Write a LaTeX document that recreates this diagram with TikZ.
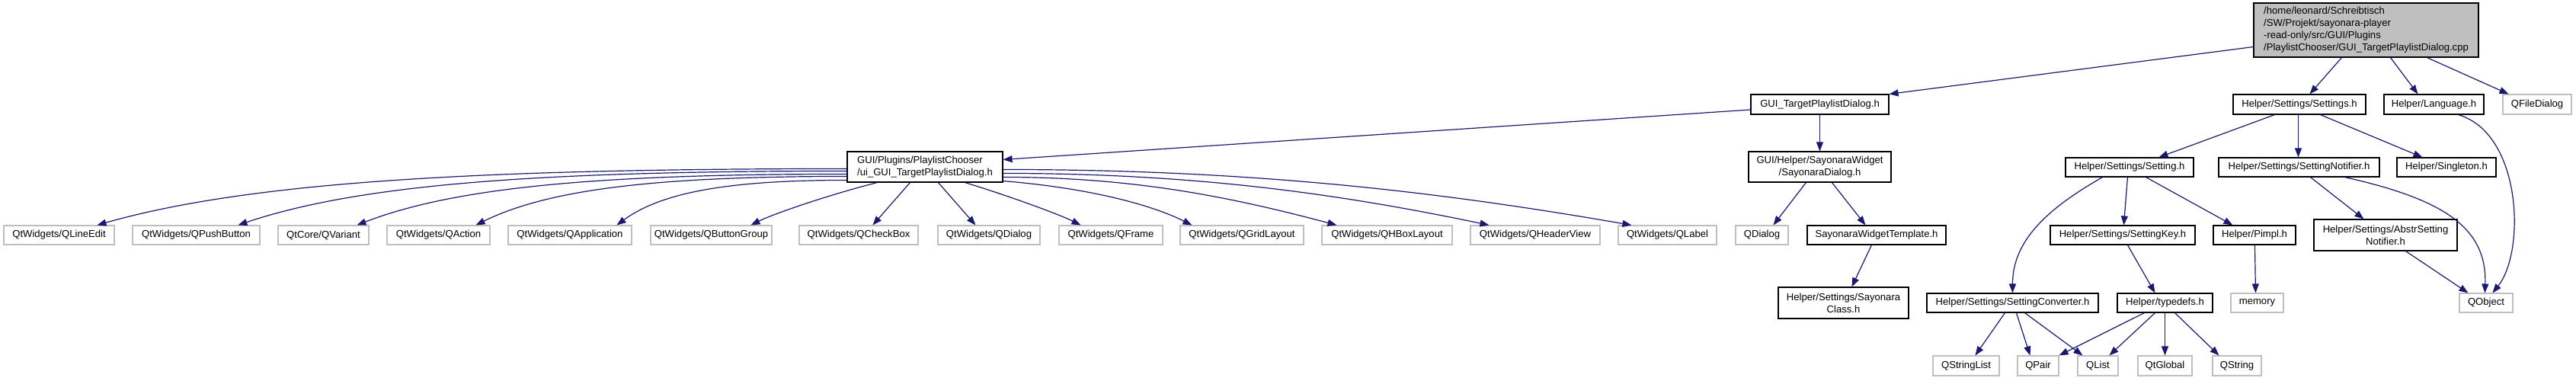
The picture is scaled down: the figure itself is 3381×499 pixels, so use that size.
\documentclass[tikz,border=0pt]{standalone}
\usepackage{fontspec}
\setmainfont{Liberation Sans}
\usetikzlibrary{arrows.meta}
\definecolor{edgeblue}{HTML}{191970}
\definecolor{grayline}{HTML}{BFBFBF}
\begin{document}
\begin{tikzpicture}[x=1pt,y=-1pt,
  box/.style={draw=black, line width=1.1pt, rectangle, inner sep=0pt, font=\fontsize{13.1}{16}\selectfont, align=center},
  ext/.style={box, draw=grayline},
  rootbox/.style={box, fill=grayline, align=left},
  edge/.style={draw=edgeblue, line width=1.2pt, -{Triangle[length=12pt,width=9pt]}}]
\useasboundingbox (0,0) rectangle (3381,499);

% rank 0
\node[rootbox, minimum width=295pt, minimum height=71pt] (root) at (3105.5,39.5) {/home/leonard/Schreibtisch\\/SW/Projekt/sayonara-player\\-read-only/src/GUI/Plugins\\/PlaylistChooser/GUI\_TargetPlaylistDialog.cpp};
% rank 1
\node[box, minimum width=181pt, minimum height=26pt] (gtpd) at (2388.5,137) {GUI\_TargetPlaylistDialog.h};
\node[box, minimum width=174pt, minimum height=26pt] (settings) at (3018,137) {Helper/Settings/Settings.h};
\node[box, minimum width=131pt, minimum height=26pt] (language) at (3194.5,137) {Helper/Language.h};
\node[ext, minimum width=90pt, minimum height=26pt] (qfiledialog) at (3330,137) {QFileDialog};
% rank 2
\node[box, align=left, minimum width=204pt, minimum height=40pt] (ui) at (1214,219) {GUI/Plugins/PlaylistChooser\\/ui\_GUI\_TargetPlaylistDialog.h};
\node[box, minimum width=187pt, minimum height=40pt] (sdialog) at (2388.5,219) {GUI/Helper/SayonaraWidget\\/SayonaraDialog.h};
\node[box, minimum width=168pt, minimum height=25pt] (setting) at (2795,219.5) {Helper/Settings/Setting.h};
\node[box, minimum width=211pt, minimum height=25pt] (snotifier) at (3017.5,219.5) {Helper/Settings/SettingNotifier.h};
\node[box, minimum width=130pt, minimum height=25pt] (singleton) at (3211,219.5) {Helper/Singleton.h};
% rank 3
\node[ext, minimum width=145pt, minimum height=25pt] (qlineedit) at (77.5,308.5) {QtWidgets/QLineEdit};
\node[ext, minimum width=167pt, minimum height=25pt] (qpushbutton) at (257.5,308.5) {QtWidgets/QPushButton};
\node[ext, minimum width=119pt, minimum height=25pt] (qvariant) at (424.5,308.5) {QtCore/QVariant};
\node[ext, minimum width=135pt, minimum height=25pt] (qaction) at (575.5,308.5) {QtWidgets/QAction};
\node[ext, minimum width=162pt, minimum height=25pt] (qapplication) at (748,308.5) {QtWidgets/QApplication};
\node[ext, minimum width=159pt, minimum height=25pt] (qbuttongroup) at (933.5,308.5) {QtWidgets/QButtonGroup};
\node[ext, minimum width=156pt, minimum height=25pt] (qcheckbox) at (1127,308.5) {QtWidgets/QCheckBox};
\node[ext, minimum width=134pt, minimum height=25pt] (qdialogw) at (1298,308.5) {QtWidgets/QDialog};
\node[ext, minimum width=136pt, minimum height=25pt] (qframe) at (1458,308.5) {QtWidgets/QFrame};
\node[ext, minimum width=162pt, minimum height=25pt] (qgridlayout) at (1630,308.5) {QtWidgets/QGridLayout};
\node[ext, minimum width=171pt, minimum height=25pt] (qhboxlayout) at (1820.5,308.5) {QtWidgets/QHBoxLayout};
\node[ext, minimum width=170pt, minimum height=25pt] (qheaderview) at (2015,308.5) {QtWidgets/QHeaderView};
\node[ext, minimum width=129pt, minimum height=25pt] (qlabel) at (2188.5,308.5) {QtWidgets/QLabel};
\node[ext, minimum width=69pt, minimum height=25pt] (qdialog) at (2312.5,308.5) {QDialog};
\node[box, minimum width=182pt, minimum height=25pt] (swt) at (2463,308.5) {SayonaraWidgetTemplate.h};
\node[box, minimum width=190pt, minimum height=25pt] (settingkey) at (2786,308.5) {Helper/Settings/SettingKey.h};
\node[box, minimum width=108pt, minimum height=25pt] (pimpl) at (2959,308.5) {Helper/Pimpl.h};
\node[box, minimum width=188pt, minimum height=41pt] (abstr) at (3131,308.5) {Helper/Settings/AbstrSetting\\Notifier.h};
% rank 4
\node[box, minimum width=171pt, minimum height=41pt] (sclass) at (2419.5,397.5) {Helper/Settings/Sayonara\\Class.h};
\node[box, minimum width=225pt, minimum height=25pt] (converter) at (2641.5,397.5) {Helper/Settings/SettingConverter.h};
\node[box, minimum width=125pt, minimum height=25pt] (typedefs) at (2841.5,397.5) {Helper/typedefs.h};
\node[ext, minimum width=69pt, minimum height=25pt] (memory) at (2962.5,397.5) {memory};
\node[ext, minimum width=70pt, minimum height=25pt] (qobject) at (3263,397.5) {QObject};
% rank 5
\node[ext, minimum width=87pt, minimum height=26pt] (qstringlist) at (2580.5,480) {QStringList};
\node[ext, minimum width=54pt, minimum height=26pt] (qpair) at (2675,480) {QPair};
\node[ext, minimum width=53pt, minimum height=26pt] (qlist) at (2753.5,480) {QList};
\node[ext, minimum width=71pt, minimum height=26pt] (qtglobal) at (2841.5,480) {QtGlobal};
\node[ext, minimum width=64pt, minimum height=26pt] (qstring) at (2936,480) {QString};

% root edges
\draw[edge] ([yshift=-22pt]root.west) -- (gtpd.north east);
\draw[edge] ([xshift=116pt]root.south west) -- ([xshift=101pt]settings.north west);
\draw[edge] ([xshift=180pt]root.south west) -- ([xshift=45pt]language.north west);
\draw[edge] ([xshift=228pt]root.south west) -- ([xshift=8pt]qfiledialog.north west);

% GUI_TargetPlaylistDialog.h
\draw[edge] ([yshift=-7pt]gtpd.west) -- ([yshift=-11pt]ui.north east);
\draw[edge] ([xshift=91pt]gtpd.south west) -- ([xshift=94pt]sdialog.north west);

% ui edges
\draw[edge] ([yshift=-23pt]ui.north west) .. controls +(-492,0) and +(197,-56) .. ([xshift=123pt]qlineedit.north west);
\draw[edge] ([yshift=-26pt]ui.north west) .. controls +(-400,0) and +(160,-54) .. ([xshift=139pt]qpushbutton.north west);
\draw[edge] ([yshift=-30pt]ui.north west) .. controls +(-322,0) and +(129,-50) .. ([xshift=104pt]qvariant.north west);
\draw[edge] ([yshift=-33pt]ui.north west) .. controls +(-244,0) and +(97,-48) .. ([xshift=117pt]qaction.north west);
\draw[edge] ([yshift=-38pt]ui.north west) .. controls +(-151,0) and +(60,-44) .. ([xshift=143pt]qapplication.north west);
\draw[edge] ([xshift=40pt]ui.south west) .. controls +(-60,15) and +(30,-15) .. ([xshift=132pt]qbuttongroup.north west);
\draw[edge] ([xshift=83pt]ui.south west) -- ([xshift=97pt]qcheckbox.north west);
\draw[edge] ([xshift=120pt]ui.south west) -- ([xshift=50pt]qdialogw.north west);
\draw[edge] ([xshift=155pt]ui.south west) .. controls +(50,15) and +(-30,-15) .. ([xshift=29pt]qframe.north west);
\draw[edge] ([yshift=2pt]ui.south east) .. controls +(100,8) and +(-60,-30) .. ([xshift=16pt]qgridlayout.north west);
\draw[edge] ([yshift=-34pt]ui.north east) .. controls +(176,0) and +(-132,-35) .. ([xshift=20pt]qhboxlayout.north west);
\draw[edge] ([yshift=-29pt]ui.north east) .. controls +(256,0) and +(-192,-40) .. ([xshift=25pt]qheaderview.north west);
\draw[edge] ([yshift=-24pt]ui.north east) .. controls +(330,0) and +(-248,-43) .. ([xshift=18pt]qlabel.north west);

% SayonaraDialog
\draw[edge] ([xshift=76pt]sdialog.south west) -- ([xshift=50pt]qdialog.north west);
\draw[edge] ([xshift=110pt]sdialog.south west) -- ([xshift=77pt]swt.north west);
\draw[edge] ([xshift=85pt]swt.south west) -- ([xshift=97pt]sclass.north west);

% Settings.h
\draw[edge] ([xshift=55pt]settings.south west) -- ([xshift=123pt]setting.north west);
\draw[edge] ([xshift=86pt]settings.south west) -- ([xshift=105pt]snotifier.north west);
\draw[edge] ([xshift=115pt]settings.south west) -- ([xshift=34pt]singleton.north west);

% Language.h
\draw[edge] ([xshift=98pt]language.south west) .. controls (3310,175) and (3315,330) .. ([xshift=44pt]qobject.north west);

% SettingNotifier
\draw[edge] ([xshift=121pt]snotifier.south west) -- ([xshift=66pt]abstr.north west);
\draw[edge] ([xshift=166pt]snotifier.south west) .. controls (3210,262) and (3264,300) .. ([xshift=34pt]qobject.north west);
\draw[edge] ([xshift=121pt]abstr.south west) -- ([xshift=12pt]qobject.north west);

% Setting.h
\draw[edge] ([xshift=49pt]setting.south west) .. controls +(-70,40) and +(0,-70) .. ([xshift=113pt]converter.north west);
\draw[edge] ([xshift=82pt]setting.south west) -- ([xshift=97pt]settingkey.north west);
\draw[edge] ([xshift=106pt]setting.south west) -- ([xshift=26pt]pimpl.north west);
\draw[edge] ([xshift=102pt]settingkey.south west) -- ([xshift=50pt]typedefs.north west);
\draw[edge] ([xshift=55pt]pimpl.south west) -- ([xshift=33pt]memory.north west);

% SettingConverter
\draw[edge] ([xshift=103pt]converter.south west) -- ([xshift=56pt]qstringlist.north west);
\draw[edge] ([xshift=118pt]converter.south west) -- ([xshift=17pt]qpair.north west);
\draw[edge] ([xshift=129pt]converter.south west) -- ([xshift=7pt]qlist.north west);

% typedefs
\draw[edge] ([xshift=36pt]typedefs.south west) -- (qpair.north east);
\draw[edge] ([xshift=50pt]typedefs.south west) -- ([xshift=42pt]qlist.north west);
\draw[edge] ([xshift=63pt]typedefs.south west) -- ([xshift=36pt]qtglobal.north west);
\draw[edge] ([xshift=76pt]typedefs.south west) -- ([xshift=9pt]qstring.north west);
\end{tikzpicture}
\end{document}
